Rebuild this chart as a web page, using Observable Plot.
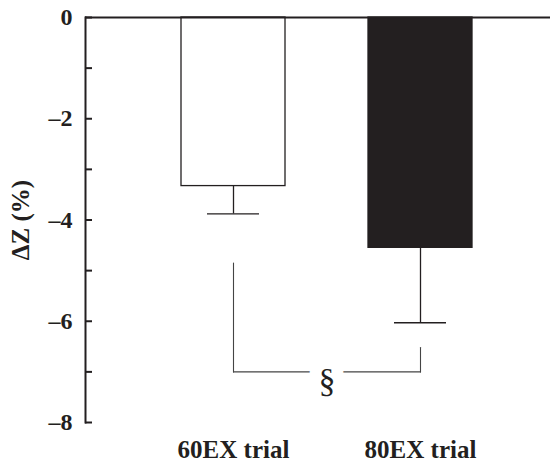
<!DOCTYPE html>
<html>
<head>
<meta charset="utf-8">
<script src="https://cdn.jsdelivr.net/npm/d3@7"></script>
<script src="https://cdn.jsdelivr.net/npm/@observablehq/plot@0.6"></script>
<style>
  html, body { margin: 0; padding: 0; background: #fff; }
  svg { display: block; }
</style>
</head>
<body>
<div id="chart"></div>
<script>
// ---- data ----
const trials = ["60EX trial", "80EX trial"];
const means = [-3.33, -4.55];
const errors = [0.55, 1.48];
const barFills = ["#ffffff", "#231f20"];
const yTicks = [0, -1, -2, -3, -4, -5, -6, -7, -8];
const yLabels = [0, -2, -4, -6, -8];
const yTitle = "ΔZ (%)";
const bracketTops = [-4.85, -6.52];
const bracketLevel = -7.0;
const sigSymbol = "§";

const ink = "#231f20";
const font = "Liberation Serif, Times New Roman, serif";

const data = trials.map((t, i) => ({trial: t, mean: means[i], err: errors[i], fill: barFills[i]}));
const leftArm = [{x: trials[0], y: bracketTops[0]}, {x: trials[0], y: bracketLevel}];
const rightArm = [{x: trials[1], y: bracketTops[1]}, {x: trials[1], y: bracketLevel}];
const horiz = [{x: trials[0], y: bracketLevel}, {x: trials[1], y: bracketLevel}];
const fmt = d => d === 0 ? "0" : "\u2013" + Math.abs(d);

const chart = Plot.plot({
  width: 550,
  height: 463,
  marginLeft: 85,
  marginRight: 0,
  marginTop: 17,
  marginBottom: 41,
  style: {fontFamily: font, background: "#fff", color: ink},
  x: {domain: trials, paddingInner: 0.444, paddingOuter: 0.465, align: 0.552, axis: null},
  y: {domain: [-8, 0], axis: null},
  marks: [
    Plot.barY(data, {x: "trial", y: "mean", fill: "fill", stroke: ink, strokeWidth: 1.3}),
    Plot.ruleX(data, {x: "trial", y1: "mean", y2: d => d.mean - d.err, stroke: ink, strokeWidth: 1.3}),
    Plot.tickY(data, {x: "trial", y: d => d.mean - d.err, stroke: ink, strokeWidth: 1.3, insetLeft: 26, insetRight: 26}),
    Plot.line(leftArm, {x: "x", y: "y", stroke: "#444", strokeWidth: 1.1}),
    Plot.line(rightArm, {x: "x", y: "y", stroke: "#444", strokeWidth: 1.1}),
    Plot.line(horiz, {x: "x", y: "y", stroke: "#444", strokeWidth: 1.1}),
    Plot.text([sigSymbol], {
      y: () => bracketLevel, frameAnchor: "middle",
      text: d => d, fontSize: 34, fill: ink, stroke: "white", strokeWidth: 24,
      paintOrder: "stroke", dx: 9, dy: 9
    }),
    Plot.ruleY([0], {stroke: ink, strokeWidth: 2}),
    Plot.frame({anchor: "left", stroke: ink, strokeWidth: 2}),
    Plot.axisY(yTicks, {anchor: "left", tickSize: -7, tickFormat: () => "", strokeWidth: 2, stroke: ink, label: null}),
    Plot.text(yLabels, {y: d => d, text: fmt, frameAnchor: "left", dx: -13, textAnchor: "end", lineAnchor: "middle", fontSize: 24, fontWeight: "bold", fill: ink}),
    Plot.text(trials, {x: d => d, text: d => d, frameAnchor: "bottom", lineAnchor: "middle", dy: 27, fontSize: 25, fontWeight: "bold", fill: ink}),
    Plot.text([yTitle], {frameAnchor: "left", textAnchor: "middle", lineAnchor: "middle", dx: -65, rotate: -90, fontSize: 25, fontWeight: "bold", fill: ink, text: d => d})
  ]
});
document.getElementById("chart").appendChild(chart);
</script>
</body>
</html>
